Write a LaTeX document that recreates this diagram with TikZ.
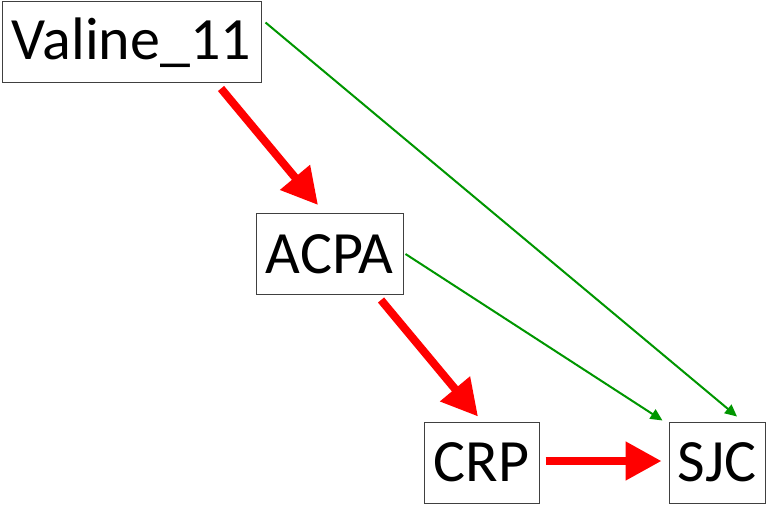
\documentclass[tikz,border=0pt]{standalone}
\usepackage{fontspec}
\usepackage{tikz}
\usepackage{color}
\setmainfont{Carlito}
\usetikzlibrary{arrows.meta}
\definecolor{pathgreen}{RGB}{0,150,0}

\begin{document}
\begin{tikzpicture}[x=1pt,y=-1pt,
   box/.style={draw=black!75, line width=1pt, inner sep=0pt, minimum height=81pt, font=\fontsize{60}{64}\selectfont},
   bigarrow/.style={red, line width=8pt, -{Triangle[length=36pt,width=37pt]}},
   thinarrow/.style={pathgreen, line width=2pt, -{Triangle[length=12pt,width=11pt]}}]
   \useasboundingbox (0,0) rectangle (767,505);
   \node [box, minimum width=259pt] (valine) at (131.5,42.5) {Valine\_11}; % boxes
   \node [box, minimum width=147pt] (acpa) at (329.5,254) {ACPA};
   \node [box, minimum width=115pt] (crp) at (481.5,462.5) {CRP};
   \node [box, minimum width=96pt] (sjc) at (717,462.5) {SJC};
   \draw [bigarrow] ([xshift=89.5pt,yshift=-5pt]valine.south) -- ([xshift=-11.5pt,yshift=8pt]acpa.north); % red paths
   \draw [bigarrow] ([xshift=51.5pt,yshift=-5pt]acpa.south) -- ([xshift=-3.5pt,yshift=5pt]crp.north);
   \draw [bigarrow] ([xshift=6pt,yshift=1.5pt]crp.east) -- ([xshift=-7pt,yshift=1.5pt]sjc.west);
   \draw [thinarrow] ([xshift=4pt,yshift=-21pt]valine.north east) -- ([xshift=20pt,yshift=5pt]sjc.north); % green paths
   \draw [thinarrow] ([xshift=2pt]acpa.east) -- ([xshift=-6pt,yshift=1pt]sjc.north west);
\end{tikzpicture}
\end{document}
